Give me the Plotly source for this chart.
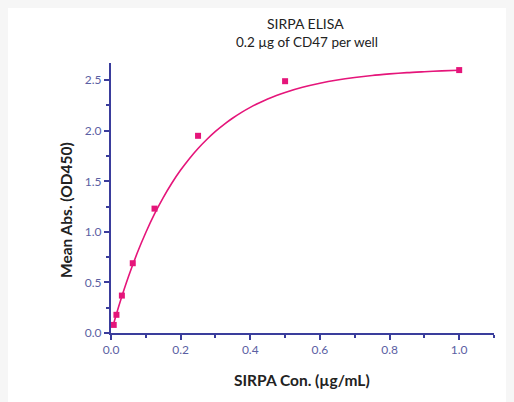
import plotly.graph_objects as go

# measured data points
conc = [0.0078, 0.0156, 0.03125, 0.0625, 0.125, 0.25, 0.5, 1.0]
absorb = [0.08, 0.18, 0.37, 0.69, 1.23, 1.95, 2.49, 2.60]

# fitted curve
fit_x = [0.005, 0.01, 0.025, 0.05, 0.075, 0.1, 0.125, 0.15, 0.175, 0.2, 0.225,
         0.25, 0.275, 0.3, 0.325, 0.35, 0.375, 0.4, 0.425, 0.45, 0.475, 0.5,
         0.55, 0.6, 0.65, 0.7, 0.75, 0.8, 0.85, 0.9, 0.95, 1.0]
fit_y = [0.062, 0.122, 0.295, 0.556, 0.788, 0.994, 1.177, 1.339, 1.483, 1.611,
         1.724, 1.825, 1.914, 1.994, 2.064, 2.126, 2.182, 2.231, 2.275, 2.314,
         2.348, 2.379, 2.430, 2.470, 2.502, 2.527, 2.547, 2.562, 2.575, 2.584,
         2.592, 2.598]

x_ticks = [0.0, 0.2, 0.4, 0.6, 0.8, 1.0]
y_ticks = [0.0, 0.5, 1.0, 1.5, 2.0, 2.5]

OFF = 8  # page body margin offset
W, H = 514 - OFF, 402 - OFF
# screen coordinates of plot area
SL, SR, ST, SB = 111, 494, 63, 333
L, R, T, B = SL - OFF, W - (SR - OFF), ST - OFF, H - (SB - OFF)
PW, PH = W - L - R, H - T - B

def px(x):
    return (x - OFF - L) / PW

def py(y):
    return (H - B - (y - OFF)) / PH

MAG = "#e5157a"
AX = "#3a3d9c"
LBL = "#5b5fa3"
FONT = "Lato, Open Sans, sans-serif"

fig = go.Figure()
fig.add_trace(go.Scatter(x=fit_x, y=fit_y, mode="lines",
                         line=dict(color=MAG, width=1.6, shape="spline",
                                   smoothing=0.8),
                         hoverinfo="skip", showlegend=False))
fig.add_trace(go.Scatter(x=conc, y=absorb, mode="markers",
                         marker=dict(symbol="square", size=6, color=MAG),
                         showlegend=False))

axis_common = dict(showgrid=False, zeroline=False, showline=True, linecolor=AX,
                   linewidth=2, ticks="outside", tickcolor=AX, ticklen=5,
                   tickwidth=2, tickfont=dict(family=FONT, size=12, color=LBL),
                   fixedrange=True)

fig.update_xaxes(range=[0, 1.1], tickvals=x_ticks,
                 ticktext=[f"{v:.1f}" for v in x_ticks],
                 minor=dict(dtick=0.1, ticks="outside", ticklen=3,
                            tickcolor=AX, tickwidth=1.5),
                 **axis_common)
fig.update_yaxes(range=[0, 2.67], tickvals=y_ticks,
                 ticktext=[f"{v:.1f}" for v in y_ticks],
                 minor=dict(dtick=0.25, ticks="outside", ticklen=3,
                            tickcolor=AX, tickwidth=1.5),
                 **axis_common)

annotations = [
    dict(text="SIRPA ELISA", x=px(305), y=py(23), size=14),
    dict(text="0.2 µg of CD47 per well", x=px(307), y=py(42), size=13.5),
    dict(text="<b>SIRPA Con. (µg/mL)</b>", x=px(302), y=py(380), size=15.5),
]
annotations = [dict(text=a["text"], x=a["x"], y=a["y"], xref="paper",
                    yref="paper", showarrow=False, xanchor="center",
                    yanchor="middle",
                    font=dict(family=FONT, size=a["size"], color="#222222"))
               for a in annotations]
annotations.append(dict(text="<b>Mean Abs. (OD450)</b>", x=px(66), y=py(210),
                        xref="paper", yref="paper", showarrow=False, textangle=-90,
                        xanchor="center", yanchor="middle",
                        font=dict(family=FONT, size=15.5, color="#222222")))

fig.update_layout(
    width=W, height=H,
    margin=dict(l=L, r=R, t=T, b=B, pad=0),
    paper_bgcolor="white",
    plot_bgcolor="white",
    annotations=annotations,
    showlegend=False,
)

fig.write_html("out.html", config={"displayModeBar": False},
               post_script="document.body.style.background='#f6f6f6';")
